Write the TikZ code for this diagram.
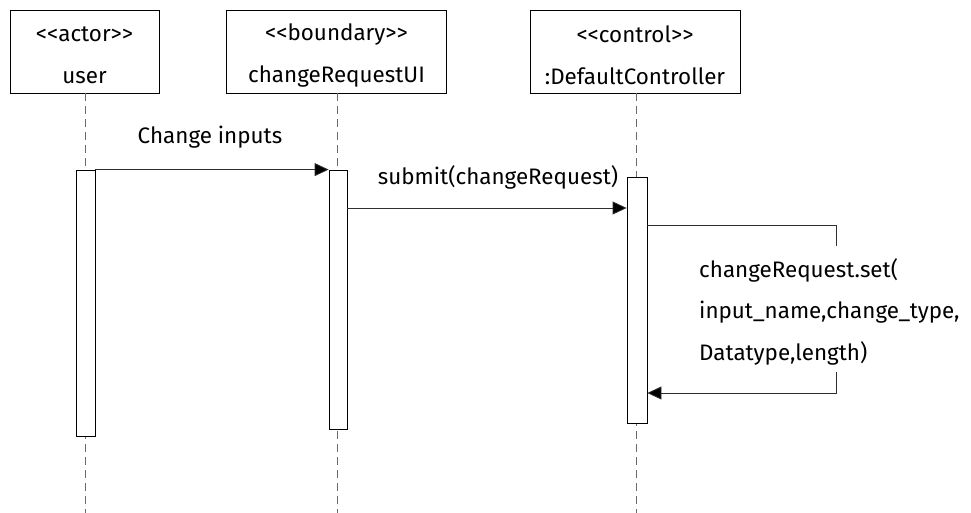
\documentclass[tikz,border=0pt]{standalone}
\usepackage{fontspec}
\setmainfont{Fira Sans}
\usetikzlibrary{arrows.meta}
\definecolor{lifegray}{HTML}{6A6A6A}
\definecolor{msggray}{HTML}{303030}
\newcommand{\dlt}{<\kern0pt<}
\newcommand{\dgt}{>\kern0pt>}
\begin{document}
\begin{tikzpicture}[x=1pt,y=-1pt,
  font=\fontsize{22.4}{26}\selectfont,
  objbox/.style={draw=black,line width=0.8pt,fill=white,inner sep=0pt,minimum height=83pt},
  objtext/.style={inner sep=0pt,align=center},
  actbox/.style={draw=black,line width=0.8pt,fill=white,inner sep=0pt,minimum width=19pt},
  lifeline/.style={draw=lifegray,line width=0.9pt,dash pattern=on 8pt off 5pt},
  msg/.style={draw=msggray,line width=0.8pt,-{Triangle[length=14pt,width=13pt,fill=black]}},
  msgline/.style={draw=msggray,line width=0.8pt},
  lbl/.style={inner sep=0pt,anchor=center}]
\useasboundingbox (0,0) rectangle (971,513);

% object heads
\node[objbox,minimum width=149pt] (user) at (84.5,51.5) {};
\node[objbox,minimum width=220pt] (ui) at (336.5,51.5) {};
\node[objbox,minimum width=210pt] (ctrl) at (635,51.5) {};
\node[objtext] (usertxt) at ([yshift=-4pt]user.center) {\dlt actor\dgt\\[16pt]user};
\node[objtext] (uitxt) at ([yshift=-4pt]ui.center) {\dlt boundary\dgt\\[16pt]changeRequestUI};
\node[objtext] (ctrltxt) at ([yshift=-4pt]ctrl.center) {\dlt control\dgt\\[16pt]:DefaultController};

% lifeline ends
\coordinate (userend) at (85,513);
\coordinate (uiend) at (337,513);
\coordinate (ctrlend) at (636,513);
\draw[lifeline] (user.south -| userend) -- (userend);
\draw[lifeline] (ui.south -| uiend) -- (uiend);
\draw[lifeline] (ctrl.south -| ctrlend) -- (ctrlend);

% activation bars
\node[actbox,minimum height=266pt] (act1) at (85.5,303) {};
\node[actbox,minimum height=259pt,minimum width=18pt] (act2) at (338,299.5) {};
\node[actbox,minimum height=246pt,minimum width=20pt] (act3) at (637,300) {};

% messages
\draw[msg] (act1.north east) -- (act2.north west);
\node[lbl] (m1) at (210,137) {Change inputs};

\draw[msg] (act2.east |- 0,208) -- (act3.west |- 0,208);
\node[lbl] (m2) at (498,177) {submit(changeRequest)};

% self call on the controller
\coordinate (selfa) at (836,225);
\coordinate (selfb) at (836,246);
\coordinate (selfc) at (836,372);
\coordinate (selfd) at (836,393);
\draw[msgline] (act3.east |- selfa) -- (selfa) -- (selfb);
\draw[msg] (selfc) -- (selfd) -- (act3.east |- selfd);
\node[inner sep=0pt,anchor=west] (s1) at (699,270) {changeRequest.set(};
\node[inner sep=0pt,anchor=west] (s2) at (699,312) {input\_name,change\_type,};
\node[inner sep=0pt,anchor=west] (s3) at (699,353) {Datatype,length)};
\end{tikzpicture}
\end{document}
